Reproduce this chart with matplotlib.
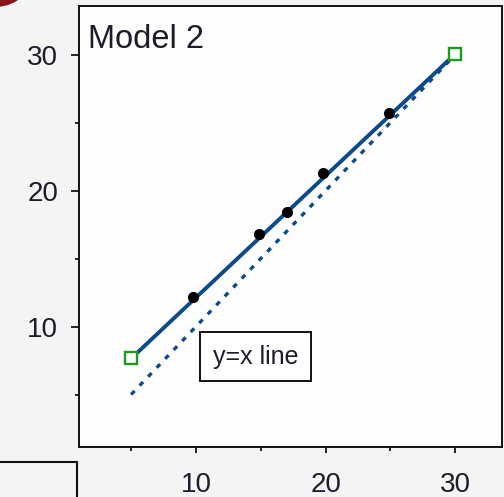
import matplotlib
matplotlib.use("Agg")
import matplotlib.pyplot as plt
from matplotlib.patches import Rectangle, Ellipse
from matplotlib.ticker import MultipleLocator

# Data
obs_x = [9.75, 14.86, 17.0, 19.8, 24.9]
obs_y = [12.2, 16.8, 18.4, 21.3, 25.7]
fit_x = [5.0, 30.0]
fit_y = [7.65, 30.05]
ref_x = [5.0, 30.0]
ref_y = [5.0, 30.0]
title_text = "Model 2"
box_text = "y=x line"
xticks = [10, 20, 30]
yticks = [10, 20, 30]

plt.rcParams['font.family'] = ['Liberation Sans', 'DejaVu Sans']
txt_col = '#1c1c2c'
blue = '#0e4a88'
green = '#1d9a1d'

W, H = 504, 497
fig = plt.figure(figsize=(W/100, H/100), dpi=100, facecolor='#f4f4f4')
ax = fig.add_axes([79/W, 1-447/H, 423/W, 441/H])
ax.set_facecolor('#fdfdfd')

ax.plot(ref_x, ref_y, color=blue, lw=2.4, ls=(0, (1.5, 2.2)), zorder=2)
ax.plot(fit_x, fit_y, color=blue, lw=2.8, zorder=3)
ax.plot(obs_x, obs_y, 'o', color='black', ms=7, zorder=4)
ax.plot(fit_x, fit_y, 's', mfc='white', mec=green, mew=1.7, ms=8.5, ls='none', zorder=5)

ax.set_xlim(0.98, 33.6)
ax.set_ylim(1.14, 33.57)

ax.xaxis.set_minor_locator(MultipleLocator(5))
ax.yaxis.set_minor_locator(MultipleLocator(5))
ax.set_xticks(xticks)
ax.set_yticks(yticks)

ax.tick_params(axis='y', which='major', length=6, width=1.2, pad=9, labelsize=20, labelcolor=txt_col)
ax.tick_params(axis='y', which='minor', length=3, width=1.2)
ax.tick_params(axis='x', which='major', length=4, width=1.2, pad=14, labelsize=20, labelcolor=txt_col)
ax.tick_params(axis='x', which='minor', length=3, width=1.2)
for s in ax.spines.values():
    s.set_linewidth(1.4)
    s.set_color('#111111')

ax.text(0.022, 0.96, title_text, transform=ax.transAxes, ha='left', va='top',
        fontsize=23.5, color=txt_col)
ax.text(14.6, 7.76, box_text, ha='center', va='center', fontsize=18, color=txt_col,
        bbox=dict(boxstyle='square,pad=0.5', fc='white', ec='#111111', lw=1.4))

# decorative remnants from the cropped original figure
fig.add_artist(Ellipse((-3/W, 1 + 30/H), 72/W, 72/H, transform=fig.transFigure,
                       color='#8c1515', zorder=0))
fig.add_artist(Rectangle((-5/W, -10/H), 82/W, 45/H, transform=fig.transFigure,
                         fc='none', ec='#111111', lw=1.5))

fig.savefig('out.png', dpi=100, facecolor=fig.get_facecolor())
